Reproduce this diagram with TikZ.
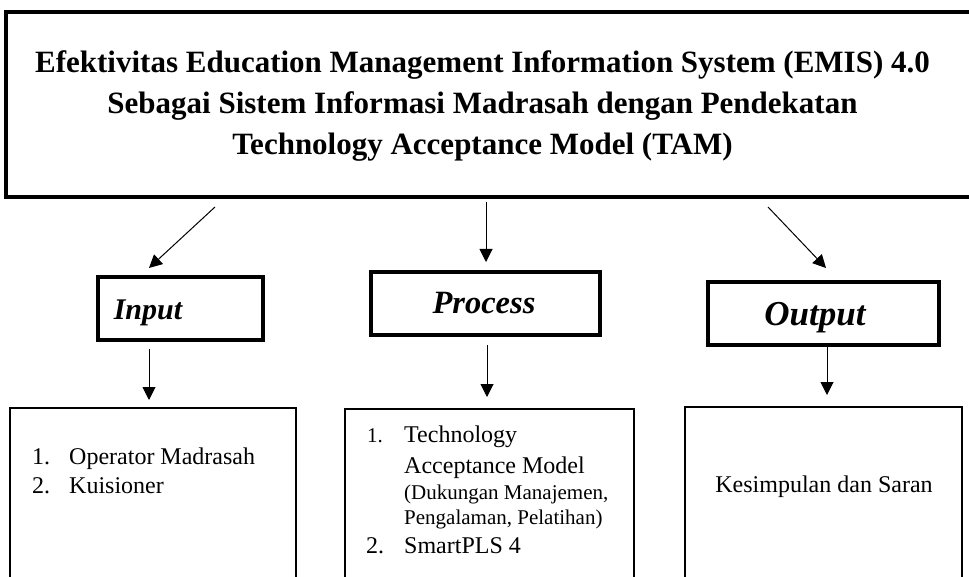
\documentclass[tikz,border=0pt]{standalone}
\usepackage{fontspec}
\setmainfont{Liberation Serif}
\usetikzlibrary{arrows.meta}
\begin{document}
\begin{tikzpicture}[x=1pt,y=-1pt,
  arr/.style={line width=1pt,-{Triangle[length=13pt,width=13pt]}},
  bigbox/.style={draw,line width=4pt,inner sep=0pt},
  labbox/.style={draw,line width=3.5pt,inner sep=0pt},
  listbox/.style={draw,line width=2.5pt,inner sep=0pt},
  ttl/.style={font=\fontsize{31}{39}\selectfont\bfseries,anchor=base,inner sep=0pt},
  lab/.style={font=\bfseries\itshape,inner sep=0pt},
  itm/.style={font=\fontsize{24}{28}\selectfont,anchor=base west,inner sep=0pt},
  subitm/.style={font=\fontsize{21}{25}\selectfont,anchor=base west,inner sep=0pt}]
\useasboundingbox (0,0) rectangle (969,577);
\clip (0,0) rectangle (969,577);
% title box
\node[bigbox,minimum width=975pt,minimum height=185pt] (top) at (493.5,104.5) {};
\node[ttl] (t1) at (482.5,73) {Efektivitas Education Management Information System (EMIS) 4.0};
\node[ttl] (t2) at (482.5,114) {Sebagai Sistem Informasi Madrasah dengan Pendekatan};
\node[ttl] (t3) at (482.5,155) {Technology Acceptance Model (TAM)};
% label boxes
\node[labbox,minimum width=165pt,minimum height=63pt] (inb) at (180.5,308.5) {};
\node[lab,font=\fontsize{30}{36}\selectfont\bfseries\itshape] (inl) at (148,313) {Input};
\node[labbox,minimum width=229pt,minimum height=63pt] (prb) at (485.5,303.5) {};
\node[lab,font=\fontsize{32.5}{36}\selectfont\bfseries\itshape] (prl) at (484,303) {Process};
\node[labbox,minimum width=231pt,minimum height=63pt] (oub) at (823.5,313.5) {};
\node[lab,font=\fontsize{35}{40}\selectfont\bfseries\itshape] (oul) at (815,318) {Output};
% list boxes
\node[listbox,minimum width=286pt,minimum height=192pt] (inlist) at (153,504) {};
\node[listbox,minimum width=289pt,minimum height=191pt] (prlist) at (489.5,504.5) {};
\node[listbox,minimum width=277pt,minimum height=193pt] (oulist) at (823.5,503.5) {};
% arrows
\coordinate (a1s) at (215,207); \coordinate (a1e) at (149,268);
\coordinate (a2s) at (486,202); \coordinate (a2e) at (486,262);
\coordinate (a3s) at (768,207); \coordinate (a3e) at (826,268);
\coordinate (b1s) at (149,349); \coordinate (b1e) at (149,400);
\coordinate (b2s) at (487,345); \coordinate (b2e) at (487,397);
\coordinate (b3s) at (827,345); \coordinate (b3e) at (827,395);
\draw[arr] (a1s) -- (a1e);
\draw[arr] (a2s) -- (a2e);
\draw[arr] (a3s) -- (a3e);
\draw[arr] (b1s) -- (b1e);
\draw[arr] (b2s) -- (b2e);
\draw[arr] (b3s) -- (b3e);
% input list
\node[itm] (i1n) at (32,464) {1.};
\node[itm] (i1t) at (69,464) {Operator Madrasah};
\node[itm] (i2n) at (32,493) {2.};
\node[itm] (i2t) at (69,493) {Kuisioner};
% process list
\node[subitm] (p1n) at (367,442) {1.};
\node[itm] (p1a) at (404,442) {Technology};
\node[itm] (p1b) at (404,473) {Acceptance Model};
\node[subitm] (p1c) at (404,499) {(Dukungan Manajemen,};
\node[subitm] (p1d) at (404,524) {Pengalaman, Pelatihan)};
\node[itm] (p2n) at (366,553) {2.};
\node[itm] (p2t) at (404,553) {SmartPLS 4};
% output list
\node[itm,anchor=base] (o1) at (824,492) {Kesimpulan dan Saran};
\end{tikzpicture}
\end{document}
